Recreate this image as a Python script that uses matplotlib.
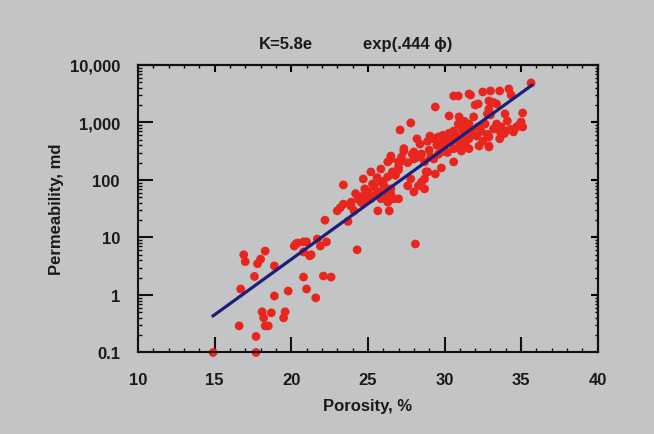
import matplotlib
matplotlib.use("Agg")
import matplotlib.pyplot as plt
import numpy as np
from matplotlib.ticker import FixedLocator, FixedFormatter, MultipleLocator, LogLocator, NullFormatter

plt.rcParams['font.family'] = ['Liberation Sans', 'DejaVu Sans']
plt.rcParams['font.weight'] = 'bold'

# ---- data ----
porosity_low = [14.9, 17.7, 17.7, 16.6, 18.3, 18.5, 18.2, 18.1, 18.7, 19.6, 19.5, 16.7, 18.9, 19.8,
                17.6, 16.9, 17.0, 18.3, 18.0, 17.8, 18.9, 20.3, 20.8, 21.0, 20.8, 21.2, 21.7, 21.9,
                22.3, 20.8, 21.0, 21.6, 22.1, 22.6, 22.2, 24.3, 28.1, 20.4, 20.2, 21.3]
perm_low = [0.1, 0.1, 0.19, 0.29, 0.29, 0.29, 0.40, 0.51, 0.49, 0.51, 0.40, 1.27, 0.96, 1.17,
            2.1, 5.0, 3.8, 5.8, 4.2, 3.5, 3.2, 7.7, 8.4, 8.4, 5.6, 4.8, 9.4, 7.1,
            8.4, 2.05, 1.27, 0.89, 2.14, 2.05, 20, 6.1, 7.7, 8.0, 7.1, 5.0]

porosity_mid = [23.4, 23.2, 23.0, 24.1, 23.7, 23.4, 23.9, 24.5, 24.35, 24.7, 25.0, 25.4, 25.85, 26.3,
                26.6, 27.0, 27.2, 26.5, 27.0, 25.65, 26.05, 26.5, 25.85, 26.3, 25.65, 26.4, 27.0,
                25.2, 26.05, 26.3, 24.8, 24.2, 25.3, 25.6, 26.0, 26.8, 27.0, 27.6, 23.9, 24.6]
perm_mid = [82, 33, 29, 29, 19, 38, 41, 43, 47, 53, 62, 76, 92, 113,
            138, 168, 214, 261, 206, 62, 70, 57, 47, 41, 29, 29, 47,
            47, 79, 53, 70, 58, 85, 110, 95, 120, 150, 200, 35, 40]

porosity_upper = [30.6, 31.6, 29.4, 30.3, 27.8, 27.1, 29.05, 29.6, 28.2, 30.6, 31.1, 31.5, 30.2, 30.0,
                  30.9, 31.3, 30.6, 31.1, 29.8, 29.1, 28.5, 28.0, 27.35, 26.5, 28.0, 28.7, 29.3,
                  27.35, 27.2, 30.6, 29.8, 29.4, 28.9, 28.7, 28.3, 26.5, 27.8, 28.0, 28.5, 28.8,
                  28.7, 27.6, 25.85, 25.2, 24.7, 26.3, 25.4, 24.9, 26.7, 32.9,
                  29.5, 30.0, 29.0, 30.4, 29.7, 28.4, 28.9, 29.3, 29.9, 30.3, 30.7, 31.0, 31.4,
                  30.2, 29.6, 28.3, 27.9, 29.9, 30.4]
perm_upper = [2890, 3130, 1860, 1300, 980, 740, 580, 560, 520, 710, 835, 870, 520, 420,
              520, 580, 350, 375, 307, 251, 283, 307, 319, 232, 232, 206, 232,
              350, 251, 206, 162, 127, 138, 104, 79, 70, 104, 62, 92, 138,
              70, 79, 155, 138, 104, 206, 53, 47, 47, 375,
              400, 330, 330, 450, 470, 420, 470, 520, 600, 650, 610, 430, 460,
              300, 280, 250, 280, 380, 560]

porosity_high = [35.65, 31.7, 32.5, 33.0, 33.6, 34.2, 34.35, 30.9, 32.0, 32.9, 32.9, 33.4, 31.9, 35.1,
                 33.95, 34.1, 33.4, 32.65, 32.2, 31.6, 34.7, 35.1, 34.5, 34.0, 33.6, 33.2, 35.0,
                 32.9, 33.6, 32.5, 32.1, 31.6, 32.9, 31.2, 30.95, 31.1, 31.6, 32.25, 30.95, 30.9,
                 32.2, 33.2, 32.8, 33.0, 31.8, 32.4, 32.8, 33.9, 34.3, 34.9, 33.7, 31.3]
perm_high = [4860, 3000, 3390, 3530, 3530, 3830, 3000, 2890, 2010, 2370, 1720, 2100, 1250, 1460,
             1410, 1060, 940, 940, 835, 940, 835, 835, 685, 710, 710, 770, 1020,
             560, 520, 476, 580, 520, 390, 710, 476, 319, 350, 390, 1250, 940,
             2100, 2220, 1410, 1350, 660, 700, 620, 640, 760, 920, 840, 1050]

fit_coef = 5.8e-4
fit_exp = 0.444
fit_range = [14.9, 35.7]

x_ticks = [10, 15, 20, 25, 30, 35, 40]
y_ticks = [0.1, 1, 10, 100, 1000, 10000]
y_tick_labels = ['0.1', '1', '10', '100', '1,000', '10,000']

porosity = porosity_low + porosity_mid + porosity_upper + porosity_high
permeability = perm_low + perm_mid + perm_upper + perm_high

# ---- figure ----
bg = '#c3c4c5'
fig = plt.figure(figsize=(6.54, 4.35), dpi=100, facecolor=bg)
ax = fig.add_axes([0.211, 0.1874, 0.703, 0.661], facecolor=bg)

ax.scatter(porosity, permeability, s=40, color='#e8261e', edgecolors='none', zorder=2, clip_on=False)

phi = np.linspace(fit_range[0], fit_range[1], 100)
ax.plot(phi, fit_coef * np.exp(fit_exp * phi), color='#1b1f78', lw=2.3, zorder=3)

ax.set_yscale('log')
ax.set_xlim(10, 40)
ax.set_ylim(0.1, 10000)

for sp in ax.spines.values():
    sp.set_linewidth(1.5)
    sp.set_color('#111111')

ax.xaxis.set_major_locator(FixedLocator(x_ticks))
ax.xaxis.set_minor_locator(MultipleLocator(1))
ax.yaxis.set_major_locator(FixedLocator(y_ticks))
ax.yaxis.set_major_formatter(FixedFormatter(y_tick_labels))
ax.yaxis.set_minor_locator(LogLocator(base=10, subs=np.arange(2, 10)))
ax.yaxis.set_minor_formatter(NullFormatter())

ax.tick_params(axis='both', which='major', direction='in', length=11, width=1.5,
               labelsize=12, color='#111111', labelcolor='#1a1a1a')
ax.tick_params(axis='x', which='major', pad=14)
ax.tick_params(axis='y', which='major', pad=13)
ax.tick_params(axis='both', which='minor', direction='in', length=3, width=1.0, color='#111111')

secx = ax.secondary_xaxis('top')
secx.xaxis.set_major_locator(FixedLocator(x_ticks))
secx.xaxis.set_minor_locator(MultipleLocator(1))
secx.tick_params(which='major', direction='in', length=5, width=1.5, labeltop=False)
secx.tick_params(which='minor', direction='in', length=2.5, width=1.0)
secx.spines['top'].set_linewidth(1.5)

secy = ax.secondary_yaxis('right')
secy.yaxis.set_major_locator(FixedLocator(y_ticks))
secy.yaxis.set_minor_locator(LogLocator(base=10, subs=np.arange(2, 10)))
secy.yaxis.set_minor_formatter(NullFormatter())
secy.tick_params(which='major', direction='in', length=5, width=1.5, labelright=False)
secy.tick_params(which='minor', direction='in', length=2.5, width=1.0)
secy.spines['right'].set_linewidth(1.5)

ax.set_xlabel('Porosity, %', fontsize=12, labelpad=8, color='#1a1a1a', fontweight='bold')
ax.set_ylabel('Permeability, md', fontsize=12, labelpad=4, color='#1a1a1a', fontweight='bold')

fig.text(0.396, 0.897, 'K=5.8e', fontsize=12, ha='left', va='center', color='#1a1a1a', fontweight='bold')
fig.text(0.555, 0.897, 'exp(.444 \u03d5)', fontsize=12, ha='left', va='center', color='#1a1a1a', fontweight='bold')

fig.savefig('out.png', dpi=100, facecolor=bg)
